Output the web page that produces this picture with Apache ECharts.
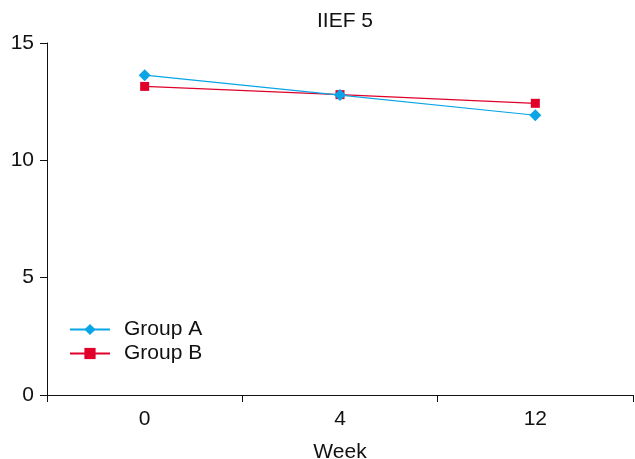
<!DOCTYPE html>
<html><head><meta charset="utf-8">
<script src="https://cdn.jsdelivr.net/npm/echarts@6/dist/echarts.min.js"></script>
<style>html,body{margin:0;padding:0;background:#fff;overflow:hidden}#c{width:635px;height:459px}</style>
</head><body><div id="c"></div>
<script>
const categories = ['0', '4', '12'];
const groupA = [13.63, 12.78, 11.92];
const groupB = [13.15, 12.8, 12.43];
const yTicks = { min: 0, max: 15, interval: 5 };

const el = document.getElementById('c');
const chart = echarts.init(el, null, { renderer: 'canvas' });
const font = 'Arial, "Liberation Sans", sans-serif';
chart.setOption({
  animation: false,
  backgroundColor: '#fff',
  title: { text: 'IIEF 5', left: 340, textAlign: 'center', top: 6,
    textStyle: { fontFamily: font, fontSize: 21, fontWeight: 'normal', color: '#111' } },
  grid: { left: 47, right: 2, top: 43, bottom: 64, containLabel: false, outerBoundsMode: 'none' },
  legend: {
    orient: 'vertical', left: 64, top: 314, itemWidth: 40, itemHeight: 14, itemGap: 3,
    textStyle: { fontFamily: font, fontSize: 21, color: '#111', padding: [0, 0, 0, 9] },
    data: ['Group A', 'Group B']
  },
  xAxis: {
    type: 'category', data: categories, boundaryGap: true,
    name: 'Week', nameLocation: 'middle', nameGap: 47,
    nameTextStyle: { fontFamily: font, fontSize: 21, color: '#111' },
    axisLine: { lineStyle: { color: '#111', width: 1 } },
    axisTick: { show: true, length: 7, lineStyle: { color: '#111' } },
    axisLabel: { fontFamily: font, fontSize: 21, color: '#111', margin: 14 },
    splitLine: { show: false }
  },
  yAxis: {
    type: 'value', min: yTicks.min, max: yTicks.max, interval: yTicks.interval,
    axisLine: { show: true, lineStyle: { color: '#111', width: 1 } },
    axisTick: { show: true, length: 7, lineStyle: { color: '#111' } },
    axisLabel: { fontFamily: font, fontSize: 21, color: '#111', margin: 13 },
    splitLine: { show: false }
  },
  series: [
    { name: 'Group A', type: 'line', data: groupA, symbol: 'diamond', symbolSize: 12,
      color: '#0aa5e6', lineStyle: { width: 1.2, color: '#0aa5e6' }, itemStyle: { color: '#0aa5e6' }, z: 3 },
    { name: 'Group B', type: 'line', data: groupB, symbol: 'rect', symbolSize: 9,
      color: '#e0002a', lineStyle: { width: 1.2, color: '#e0002a' }, itemStyle: { color: '#e0002a' }, z: 2 }
  ]
});
</script></body></html>
